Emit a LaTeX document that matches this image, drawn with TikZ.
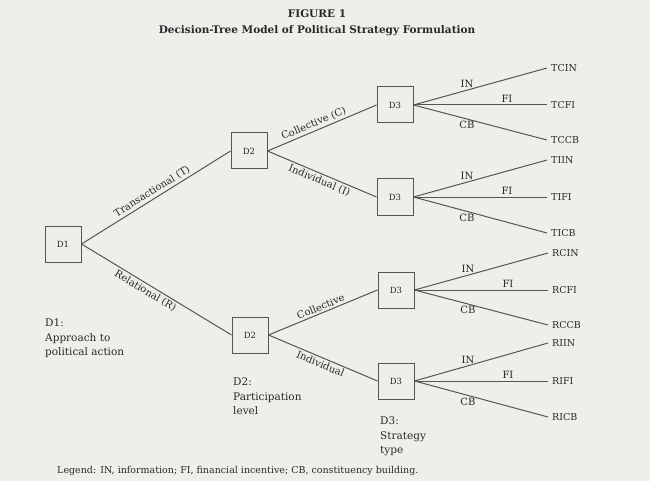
\documentclass[tikz,border=0pt]{standalone}
\usepackage{fontspec}
\setmainfont{DejaVu Serif}
\usetikzlibrary{positioning}

\definecolor{paper}{RGB}{238,238,235}
\definecolor{ink}{RGB}{40,40,40}
\definecolor{rule}{RGB}{85,85,85}

\tikzset{
	dbox/.style={draw=rule, line width=1pt, minimum size=36pt, inner sep=0pt, text=ink, font=\fontsize{8.5}{9}\selectfont},
	leaf/.style={anchor=west, inner sep=4pt, text=ink, font=\fontsize{9.5}{10}\selectfont},
	lab/.style={text=ink, inner sep=2pt, font=\fontsize{10}{11}\selectfont},
	note/.style={anchor=north west, align=left, inner sep=0pt, text=ink, font=\fontsize{10.5}{14.5}\selectfont},
	branch/.style={draw=rule, line width=1pt}
}

\begin{document}
\begin{tikzpicture}[x=1pt,y=-1pt,on grid]
	\fill[paper] (0,0) rectangle (650,481);
	\useasboundingbox (0,0) rectangle (650,481);
			\node[text=ink, align=center, font=\bfseries\fontsize{10.5}{16}\selectfont] (title) at (317,23) {FIGURE 1\\Decision-Tree Model of Political Strategy Formulation};
			\node[dbox] (d1) at (63,244) 				{D1};
			\node[dbox] (d2t) [above right=93pt and 186pt of d1]	{D2};
			\node[dbox] (d2b) [below right=91pt and 187pt of d1]	{D2};
			\node[dbox] (d3a) [above right=46pt and 146pt of d2t]	{D3};
			\node[dbox] (d3b) [below right=46pt and 146pt of d2t]	{D3};
			\node[dbox] (d3c) [above right=45pt and 146pt of d2b]	{D3};
			\node[dbox] (d3d) [below right=46pt and 146pt of d2b]	{D3};
			% outcomes
			\node[leaf] (tcin) at ([xshift=152pt,yshift=37pt]d3a)	{TCIN};
			\node[leaf] (tcfi) at ([xshift=152pt]d3a)		{TCFI};
			\node[leaf] (tccb) at ([xshift=152pt,yshift=-35pt]d3a)	{TCCB};
			\node[leaf] (tiin) at ([xshift=152pt,yshift=37pt]d3b)	{TIIN};
			\node[leaf] (tifi) at ([xshift=152pt]d3b)		{TIFI};
			\node[leaf] (ticb) at ([xshift=152pt,yshift=-36pt]d3b)	{TICB};
			\node[leaf] (rcin) at ([xshift=152pt,yshift=37pt]d3c)	{RCIN};
			\node[leaf] (rcfi) at ([xshift=152pt]d3c)		{RCFI};
			\node[leaf] (rccb) at ([xshift=152pt,yshift=-35pt]d3c)	{RCCB};
			\node[leaf] (riin) at ([xshift=152pt,yshift=38pt]d3d)	{RIIN};
			\node[leaf] (rifi) at ([xshift=152pt]d3d)		{RIFI};
			\node[leaf] (ricb) at ([xshift=152pt,yshift=-36pt]d3d)	{RICB};
			\path[branch] 	(d1.east) edge node [lab,sloped,above,pos=.5] {Transactional (T)}	(d2t.west)
							edge node [lab,sloped,below,pos=.45] {Relational (R)}		(d2b.west)
						(d2t.east) edge node [lab,sloped,above,pos=.45] {Collective (C)}	(d3a.west)
							edge node [lab,sloped,below,pos=.5] {Individual (I)}		(d3b.west)
						(d2b.east) edge node [lab,sloped,above,pos=.5] {Collective}		(d3c.west)
							edge node [lab,sloped,below,pos=.5] {Individual}		(d3d.west)
						(d3a.east) edge node [lab,above,pos=.4] {IN}	(tcin.west)
							edge node [lab,above,pos=.7] {FI}		(tcfi.west)
							edge node [lab,below,pos=.4] {CB}		(tccb.west)
						(d3b.east) edge node [lab,above,pos=.4] {IN}	(tiin.west)
							edge node [lab,above,pos=.7] {FI}		(tifi.west)
							edge node [lab,below,pos=.4] {CB}		(ticb.west)
						(d3c.east) edge node [lab,above,pos=.4] {IN}	(rcin.west)
							edge node [lab,above,pos=.7] {FI}		(rcfi.west)
							edge node [lab,below,pos=.4] {CB}		(rccb.west)
						(d3d.east) edge node [lab,above,pos=.4] {IN}	(riin.west)
							edge node [lab,above,pos=.7] {FI}		(rifi.west)
							edge node [lab,below,pos=.4] {CB}		(ricb.west);
			% decision levels
			\node[note] (n1) at (45,319)	{D1:\\Approach to\\political action};
			\node[note] (n2) at (233,378)	{D2:\\Participation\\level};
			\node[note] (n3) at (380,417)	{D3:\\Strategy\\type};
			\node[note, font=\fontsize{9.5}{10}\selectfont] (legend) at (57,466) {Legend: IN, information; FI, financial incentive; CB, constituency building.};
\end{tikzpicture}
\end{document}
